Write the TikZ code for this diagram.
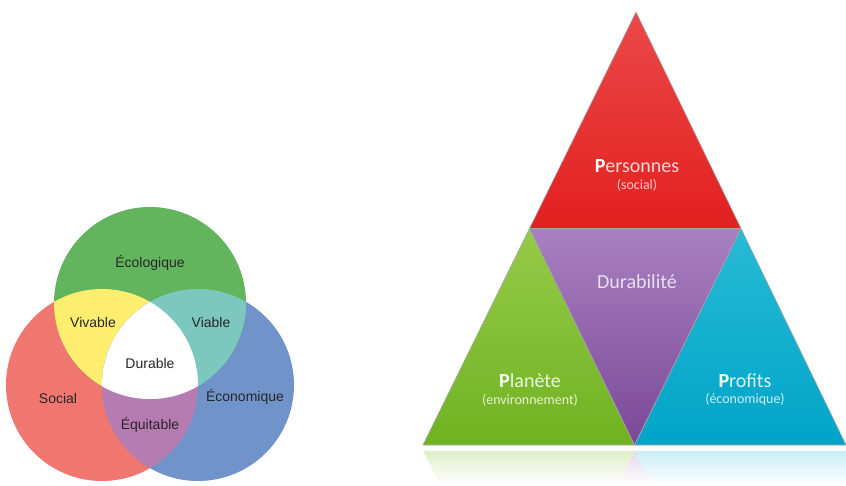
\documentclass[tikz,border=0pt]{standalone}
\usepackage{fontspec}
\usetikzlibrary{calc}
\newfontfamily\vennfont{Liberation Sans}
\newfontfamily\trifont{Carlito}
% Venn colours
\definecolor{ecogreen}{RGB}{99,181,93}
\definecolor{socred}{RGB}{240,118,112}
\definecolor{ecoblue}{RGB}{112,148,202}
\definecolor{vivyellow}{RGB}{254,238,112}
\definecolor{viateal}{RGB}{125,200,190}
\definecolor{equipurple}{RGB}{182,124,178}
% Triangle colours
\definecolor{pertop}{RGB}{236,72,72}
\definecolor{perbot}{RGB}{226,32,32}
\definecolor{durtop}{RGB}{168,128,192}
\definecolor{durbot}{RGB}{122,72,152}
\definecolor{plantop}{RGB}{150,202,72}
\definecolor{planbot}{RGB}{112,178,34}
\definecolor{proftop}{RGB}{40,186,214}
\definecolor{profbot}{RGB}{0,164,200}
\tikzset{
  vlabel/.style={font=\vennfont\fontsize{14}{16}\selectfont, text=black!85},
  tri edge/.style={draw=black!35, line width=0.6pt, line join=round},
  tri title/.style={font=\trifont\fontsize{20}{24}\selectfont},
  tri sub/.style={font=\trifont\fontsize{14}{16}\selectfont}
}
\begin{document}
\begin{tikzpicture}[x=1pt,y=-1pt]
    \useasboundingbox (0,0) rectangle (846,485);
    % Venn centres
    \coordinate (eco) at (150,303);
    \coordinate (soc) at (102,385);
    \coordinate (eni) at (198,385);
    % Circles
    \fill [socred] (soc) circle [radius=96pt];
    \fill [ecoblue] (eni) circle [radius=96pt];
    \fill [ecogreen] (eco) circle [radius=96pt];
    % Overlaps
    \begin{scope}
        \clip (soc) circle [radius=96pt];
        \fill [vivyellow] (eco) circle [radius=96pt];
        \fill [equipurple] (eni) circle [radius=96pt];
    \end{scope}
    \begin{scope}
        \clip (eni) circle [radius=96pt];
        \fill [viateal] (eco) circle [radius=96pt];
    \end{scope}
    \begin{scope}
        \clip (soc) circle [radius=96pt];
        \clip (eni) circle [radius=96pt];
        \fill [white] (eco) circle [radius=96pt];
    \end{scope}
    % Venn labels
    \node [vlabel] (ecologique) at (150,263) {Écologique};
    \node [vlabel] (vivable) at (93,322) {Vivable};
    \node [vlabel] (viable) at (211,322) {Viable};
    \node [vlabel] (durable) at (150,363) {Durable};
    \node [vlabel] (social) at (58,398) {Social};
    \node [vlabel] (economique) at (245,397) {Économique};
    \node [vlabel] (equitable) at (150,425) {Équitable};
    % Triangle corners
    \coordinate (A) at (636,12);
    \coordinate (B) at (423,445);
    \coordinate (C) at (846,445);
    \coordinate (AB) at ($(A)!0.5!(B)$);
    \coordinate (AC) at ($(A)!0.5!(C)$);
    \coordinate (BC) at ($(B)!0.5!(C)$);
    % Reflection
    \shade [top color=plantop!30!white, bottom color=white] (423,451) -- (BC|-0,451) -- (618,485) -- (440,485) -- cycle;
    \shade [top color=durtop!30!white, bottom color=white] (BC|-0,451) -- (652,485) -- (618,485) -- cycle;
    \shade [top color=proftop!25!white, bottom color=white] (BC|-0,451) -- (846,451) -- (846,485) -- (652,485) -- cycle;
    % Personnes
    \draw [tri edge, top color=pertop, bottom color=perbot] (A) -- (AB) -- (AC) -- cycle;
    % Planete
    \draw [tri edge, top color=plantop, bottom color=planbot] (AB) -- (B) -- (BC) -- cycle;
    % Profits
    \draw [tri edge, top color=proftop, bottom color=profbot] (AC) -- (BC) -- (C) -- cycle;
    % Durabilite
    \draw [tri edge, top color=durtop, bottom color=durbot] (AB) -- (AC) -- (BC) -- cycle;
    % Triangle labels
    \node [tri title, text=red!15!white] (personnes) at (637,166) {\textbf{\color{white}P}ersonnes};
    \node [tri sub, text=red!22!white] (socialsub) at (637,185) {(social)};
    \node [tri title, text=durtop!25!white] (durabilite) at (637,282) {Durabilité};
    \node [tri title, text=plantop!18!white] (planete) at (530,381) {\textbf{\color{white}P}lanète};
    \node [tri sub, text=plantop!25!white] (environnement) at (530,400) {(environnement)};
    \node [tri title, text=proftop!18!white] (profits) at (745,381) {\textbf{\color{white}P}rofits};
    \node [tri sub, text=proftop!25!white] (economiquesub) at (745,400) {(économique)};
\end{tikzpicture}
\end{document}
